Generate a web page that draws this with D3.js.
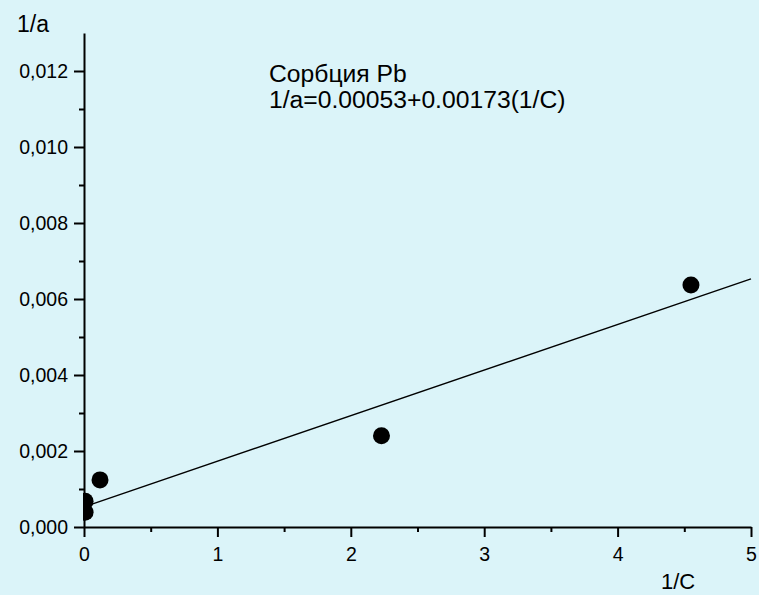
<!DOCTYPE html>
<html>
<head>
<meta charset="utf-8">
<script src="https://cdn.jsdelivr.net/npm/d3@7"></script>
<style>
  html, body { margin: 0; padding: 0; background: #dbf4f9; }
  svg { display: block; font-family: "Liberation Sans", Arial, sans-serif; }
</style>
</head>
<body>
<svg id="chart" width="759" height="595"></svg>
<script>
// Sorption of Pb: reciprocal coordinates (1/C, 1/a)
const invC = [0.008, 0.008, 0.12, 2.23, 4.55];
const invA = [0.00068, 0.00039, 0.00124, 0.0024, 0.00637];

// Fitted straight line, as drawn
const fitIntercept = 0.00053;
const fitSlope = 0.0012;
const fitRange = [0, 5];

const xMajorTicks = [0, 1, 2, 3, 4, 5];
const xMinorTicks = [0.5, 1.5, 2.5, 3.5, 4.5];
const yMajorTicks = [0, 0.002, 0.004, 0.006, 0.008, 0.010, 0.012];
const yMinorTicks = [0.001, 0.003, 0.005, 0.007, 0.009, 0.011];

const titleText = "Сорбция Pb";
const equationText = "1/a=0.00053+0.00173(1/C)";
const xLabel = "1/C";
const yLabel = "1/a";

const svg = d3.select("#chart");
const m = { left: 84, right: 751, top: 33, bottom: 527 };

const x = d3.scaleLinear().domain([0, 5]).range([m.left, m.right]);
const y = d3.scaleLinear().domain([0, 0.013]).range([m.bottom, m.top]);

const ruLocale = d3.formatLocale({ decimal: ",", thousands: " ", grouping: [3], currency: ["", ""] });
const yFmt = ruLocale.format(".3f");

// Minor ticks first, then major axes on top
svg.append("g")
  .attr("transform", `translate(0,${m.bottom})`)
  .call(d3.axisBottom(x).tickValues(xMinorTicks).tickSize(5).tickFormat(""))
  .call(g => g.select(".domain").remove());
svg.append("g")
  .attr("transform", `translate(${m.left},0)`)
  .call(d3.axisLeft(y).tickValues(yMinorTicks).tickSize(5).tickFormat(""))
  .call(g => g.select(".domain").remove());

const xAxis = svg.append("g")
  .attr("transform", `translate(0,${m.bottom})`)
  .call(d3.axisBottom(x).tickValues(xMajorTicks).tickSize(10).tickSizeOuter(0).tickPadding(6).tickFormat(d3.format("d")));
const yAxis = svg.append("g")
  .attr("transform", `translate(${m.left},0)`)
  .call(d3.axisLeft(y).tickValues(yMajorTicks).tickSize(10).tickSizeOuter(0).tickPadding(6).tickFormat(yFmt));

svg.selectAll(".domain, .tick line").attr("stroke", "#000").attr("stroke-width", 2);
svg.selectAll(".tick text").attr("fill", "#000").style("font-size", "19.5px");
xAxis.selectAll(".tick text").attr("dy", "0.9em");

// Clip data marks to the plot frame
svg.append("clipPath").attr("id", "plotClip")
  .append("rect").attr("x", m.left - 1).attr("y", m.top - 20)
  .attr("width", m.right - m.left + 20).attr("height", m.bottom - m.top + 20);

const plot = svg.append("g").attr("clip-path", "url(#plotClip)");

const line = d3.line().x(d => x(d)).y(d => y(fitIntercept + fitSlope * d));
plot.append("path")
  .datum(fitRange)
  .attr("d", line)
  .attr("fill", "none")
  .attr("stroke", "#000")
  .attr("stroke-width", 1.4);

plot.selectAll("circle.pt")
  .data(invC.map((c, i) => ({ c, a: invA[i] })))
  .join("circle")
  .attr("class", "pt")
  .attr("cx", d => x(d.c))
  .attr("cy", d => y(d.a))
  .attr("r", 8.5)
  .attr("fill", "#000");

// Axis titles
svg.append("text").attr("x", 17).attr("y", 32)
  .style("font-size", "23px").text(yLabel);
svg.append("text").attr("x", 661).attr("y", 589)
  .style("font-size", "22px").text(xLabel);

// Annotation with the fit equation
svg.append("text").attr("x", 269).attr("y", 82)
  .style("font-size", "24.7px").text(titleText);
svg.append("text").attr("x", 269).attr("y", 108)
  .style("font-size", "24.7px").text(equationText);
</script>
</body>
</html>
